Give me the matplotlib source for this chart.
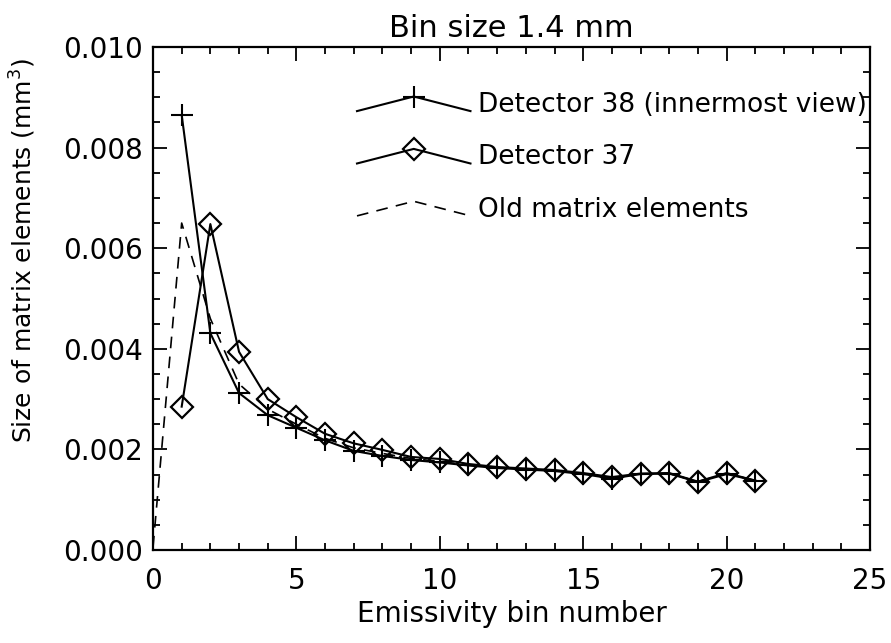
import matplotlib
matplotlib.use("Agg")
import matplotlib.pyplot as plt
import numpy as np
from matplotlib.lines import Line2D
from matplotlib.legend_handler import HandlerLine2D

# emissivity bins
bins = np.arange(1, 22)
old_bins = np.arange(0, 22)

# detector 38 (innermost view), units of 1e-3 mm^3
det38 = [8.65, 4.31, 3.12, 2.68, 2.43, 2.18, 1.97, 1.87, 1.79, 1.74, 1.68,
         1.63, 1.60, 1.57, 1.51, 1.42, 1.51, 1.52, 1.35, 1.51, 1.38]
# detector 37
det37 = [2.85, 6.48, 3.94, 3.00, 2.64, 2.31, 2.12, 1.99, 1.85, 1.81, 1.71,
         1.65, 1.62, 1.59, 1.53, 1.45, 1.52, 1.53, 1.36, 1.53, 1.38]
# old matrix elements
old = [0.05, 6.50, 4.60, 3.30, 2.80, 2.50, 2.22, 2.03, 1.92, 1.82, 1.76, 1.69,
       1.64, 1.61, 1.58, 1.52, 1.44, 1.51, 1.52, 1.36, 1.52, 1.38]

det38 = np.array(det38) * 1e-3
det37 = np.array(det37) * 1e-3
old = np.array(old) * 1e-3


# legend entries drawn as a little chevron with the marker at the top
class ChevronHandler(HandlerLine2D):
    def create_artists(self, legend, orig_handle, xdescent, ydescent,
                       width, height, fontsize, trans):
        yc = height / 2 - ydescent
        xs = np.array([0, width / 2, width]) - xdescent
        ys = yc + np.array([-6.0, 4.5, -6.0])
        line = Line2D(xs, ys)
        self.update_prop(line, orig_handle, legend)
        line.set_marker("None")
        mk = Line2D([xs[1]], [ys[1]])
        self.update_prop(mk, orig_handle, legend)
        mk.set_linestyle("None")
        line.set_transform(trans)
        mk.set_transform(trans)
        return [line, mk]


plt.rcParams["font.family"] = "DejaVu Sans"
plt.rcParams["mathtext.default"] = "regular"

fig = plt.figure(figsize=(8.91, 6.43), dpi=100)
ax = fig.add_axes([153 / 891, 1 - 550 / 643, 717 / 891, 503 / 643])

l38, = ax.plot(bins, det38, color="black", lw=1.5, marker="+",
               markersize=16, markeredgewidth=1.5)
l37, = ax.plot(bins, det37, color="black", lw=1.5, marker="D",
               markersize=11.5, markerfacecolor="none", markeredgewidth=1.6)
lold, = ax.plot(old_bins, old, color="black", lw=1.2, ls=(0, (7, 5)))

ax.set_xlim(0, 25)
ax.set_ylim(0, 0.010)
ax.set_xticks(np.arange(0, 26, 5))
ax.set_xticks(np.arange(0, 26, 1), minor=True)
ax.set_yticks(np.arange(0, 0.0101, 0.002))
ax.set_yticks(np.arange(0, 0.0101, 0.0005), minor=True)
ax.set_yticklabels(["%.3f" % v for v in np.arange(0, 0.0101, 0.002)])
ax.tick_params(which="both", direction="in", top=True, right=True,
               labelsize=20, width=1.3)
ax.tick_params(axis="y", pad=7)
ax.tick_params(axis="x", pad=12)
ax.tick_params(which="major", length=10)
ax.tick_params(which="minor", length=5)
for s in ax.spines.values():
    s.set_linewidth(1.6)

ax.set_title("Bin size 1.4 mm", fontsize=22, pad=7)
ax.set_xlabel("Emissivity bin number", fontsize=20, labelpad=4)
ax.set_ylabel("Size of matrix elements (mm$^3$)", fontsize=18)
ax.yaxis.set_label_coords(-0.16, 0.595)

ax.legend([l38, l37, lold],
          ["Detector 38 (innermost view)", "Detector 37", "Old matrix elements"],
          handler_map={l38: ChevronHandler(), l37: ChevronHandler(),
                       lold: ChevronHandler()},
          loc="upper left", bbox_to_anchor=((357 - 153) / 717, (550 - 92) / 503),
          frameon=False, fontsize=19, handlelength=4.3, handletextpad=0.3,
          labelspacing=1.0, borderpad=0, borderaxespad=0)

fig.savefig("out.png", dpi=100)
